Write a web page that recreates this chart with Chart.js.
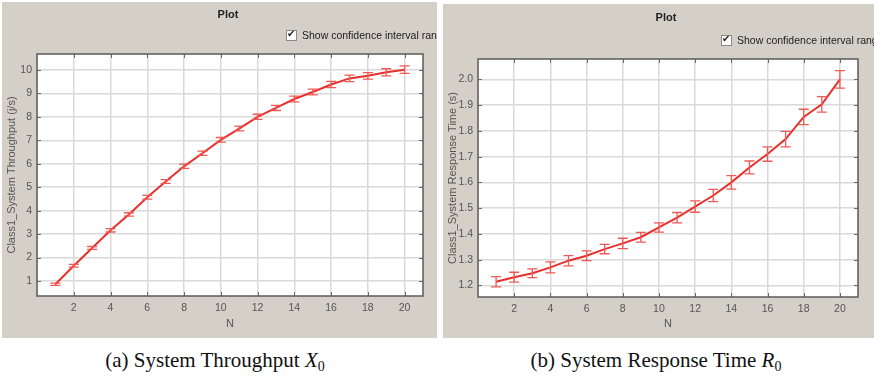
<!DOCTYPE html>
<html>
<head>
<meta charset="utf-8">
<script src="https://cdn.jsdelivr.net/npm/chart.js@4/dist/chart.umd.min.js"></script>
<style>
  html, body { margin: 0; padding: 0; background: #ffffff; }
  #root { position: relative; width: 874px; height: 379px; overflow: hidden; background: #ffffff; }
  .panel { position: absolute; background: #d4d0c8; overflow: hidden; }
  .panel canvas { position: absolute; left: 0; top: 0; }
  .ptitle { position: absolute; font: bold 11px "Liberation Sans", Arial, sans-serif; color: #222; transform: translate(-50%, -50%); white-space: nowrap; }
  .chk { position: absolute; font: 10.5px "Liberation Sans", Arial, sans-serif; color: #222; white-space: nowrap; display: flex; align-items: center; }
  .box { width: 9px; height: 9px; border: 1px solid #8a8a8a; background: #fff; margin-right: 5px; position: relative; }
  .box::after { content: "\2714"; position: absolute; left: 0px; top: -3px; font-size: 10px; color: #222; }
  .cap { position: absolute; font: 21px "Liberation Serif", "Times New Roman", serif; color: #111; white-space: nowrap; transform: translate(-50%, -50%); }
  .cap sub { font-size: 14px; vertical-align: -4px; line-height: 0; }
</style>
</head>
<body>
<div id="root">
  <div class="panel" id="p1" style="left:2px; top:2px; width:435px; height:336px;">
    <canvas id="c1" width="435" height="336"></canvas>
    <div class="ptitle" style="left:226px; top:12px;">Plot</div>
    <div class="chk" style="left:284px; top:27px;"><span class="box"></span>Show confidence interval range</div>
  </div>
  <div class="panel" id="p2" style="left:443px; top:4px; width:431px; height:334px;">
    <canvas id="c2" width="431" height="334"></canvas>
    <div class="ptitle" style="left:223px; top:13px;">Plot</div>
    <div class="chk" style="left:278px; top:30px;"><span class="box"></span>Show confidence interval range</div>
  </div>
  <div class="cap" style="left:215px; top:360px;">(a) System Throughput <i>X</i><sub>0</sub></div>
  <div class="cap" style="left:656px; top:360px;">(b) System Response Time <i>R</i><sub>0</sub></div>
</div>
<script>
// ---- data ----
const N = [1,2,3,4,5,6,7,8,9,10,11,12,13,14,15,16,17,18,19,20];
const throughput = [0.86,1.65,2.41,3.16,3.84,4.57,5.24,5.89,6.45,7.02,7.50,8.00,8.38,8.76,9.06,9.38,9.64,9.75,9.90,10.01];
const throughputErr = [0.05,0.06,0.06,0.07,0.07,0.08,0.08,0.09,0.09,0.10,0.10,0.11,0.11,0.12,0.12,0.13,0.14,0.14,0.15,0.16];
const responseTime = [1.214,1.232,1.247,1.270,1.296,1.315,1.341,1.363,1.387,1.425,1.463,1.506,1.549,1.600,1.658,1.710,1.768,1.854,1.903,2.000];
const responseErr = [0.020,0.019,0.017,0.021,0.020,0.019,0.018,0.020,0.019,0.018,0.020,0.022,0.024,0.026,0.025,0.028,0.030,0.030,0.030,0.034];
const xTicks = [2,4,6,8,10,12,14,16,18,20];
const yTicksA = [1,2,3,4,5,6,7,8,9,10];
const yTicksB = [1.2,1.3,1.4,1.5,1.6,1.7,1.8,1.9,2.0];

const LINE = '#e8302c';
const ERR = '#ef5a56';
const TICKFONT = { family: '"Liberation Sans", Arial, sans-serif', size: 10.5 };
const TITLEFONT = { family: '"Liberation Sans", Arial, sans-serif', size: 11 };

const framePlugin = {
  id: 'frame',
  beforeDraw(chart) {
    const a = chart.chartArea, ctx = chart.ctx;
    ctx.save();
    ctx.fillStyle = '#ffffff';
    ctx.fillRect(a.left, a.top, a.right - a.left, a.bottom - a.top);
    ctx.restore();
  },
  afterDatasetsDraw(chart) {
    const opt = chart.options.plugins.frame;
    const xs = chart.scales.x, ys = chart.scales.y, ctx = chart.ctx;
    ctx.save();
    ctx.strokeStyle = ERR;
    ctx.lineWidth = 1.3;
    opt.values.forEach((v, i) => {
      const x = xs.getPixelForValue(opt.xs[i]);
      const yt = ys.getPixelForValue(v + opt.errs[i]);
      const yb = ys.getPixelForValue(v - opt.errs[i]);
      ctx.beginPath();
      ctx.moveTo(x, yt); ctx.lineTo(x, yb);
      ctx.moveTo(x - 5, yt); ctx.lineTo(x + 5, yt);
      ctx.moveTo(x - 5, yb); ctx.lineTo(x + 5, yb);
      ctx.stroke();
    });
    ctx.restore();
  },
  afterDraw(chart) {
    const a = chart.chartArea, ctx = chart.ctx;
    const xs = chart.scales.x, ys = chart.scales.y;
    ctx.save();
    ctx.strokeStyle = '#6a6a6a';
    ctx.lineWidth = 1;
    ctx.beginPath();
    xs.ticks.forEach(t => {
      if (t.value <= xs.min || t.value >= xs.max) return;
      const x = Math.round(xs.getPixelForValue(t.value)) + 0.5;
      ctx.moveTo(x, a.bottom); ctx.lineTo(x, a.bottom - 4);
      ctx.moveTo(x, a.top); ctx.lineTo(x, a.top + 4);
    });
    ys.ticks.forEach(t => {
      const y = Math.round(ys.getPixelForValue(t.value)) + 0.5;
      ctx.moveTo(a.left, y); ctx.lineTo(a.left + 4, y);
      ctx.moveTo(a.right, y); ctx.lineTo(a.right - 4, y);
    });
    ctx.stroke();
    ctx.lineWidth = 1.5;
    ctx.strokeStyle = '#5a5a5a';
    ctx.strokeRect(Math.round(a.left), Math.round(a.top), Math.round(a.right - a.left), Math.round(a.bottom - a.top));
    ctx.restore();
  }
};

function makeChart(id, values, errs, yMin, yMax, yStep, yTickVals, yTitle, pad, xHeight, decimals) {
  const pts = N.map((n, i) => ({ x: n, y: values[i] }));
  return new Chart(document.getElementById(id), {
    type: 'line',
    data: { datasets: [{ data: pts, borderColor: LINE, borderWidth: 2, pointRadius: 0, tension: 0, fill: false }] },
    options: {
      responsive: false,
      animation: false,
      devicePixelRatio: 1,
      layout: { padding: pad },
      plugins: {
        legend: { display: false },
        tooltip: { enabled: false },
        frame: { values: values, errs: errs, xs: N }
      },
      scales: {
        x: {
          type: 'linear', min: 0, max: 21,
          border: { display: false },
          grid: { color: '#d9d9d9', lineWidth: 1.5, drawTicks: false },
          ticks: {
            stepSize: 2, includeBounds: false, padding: 6, color: '#555', font: TICKFONT,
            callback: v => xTicks.includes(v) ? String(v) : ''
          },
          title: { display: true, text: 'N', color: '#555', font: TITLEFONT, padding: { top: 0, bottom: 3 } },
          afterFit: s => { s.height = xHeight; }
        },
        y: {
          type: 'linear', min: yMin, max: yMax,
          border: { display: false },
          grid: { color: '#d9d9d9', lineWidth: 1.5, drawTicks: false },
          ticks: {
            stepSize: yStep, includeBounds: false, padding: 5, color: '#555', font: TICKFONT,
            callback: v => yTickVals.some(t => Math.abs(t - v) < 1e-6) ? v.toFixed(decimals) : ''
          },
          title: { display: true, text: yTitle, color: '#555', font: TITLEFONT, padding: { top: 3, bottom: 0 } },
          afterFit: s => { s.width = 35; }
        }
      }
    },
    plugins: [framePlugin]
  });
}

makeChart('c1', throughput, throughputErr, 0.36, 10.68, 1, yTicksA, 'Class1_System Throughput (j/s)',
  { left: 0, top: 52, right: 14, bottom: 4 }, 38, 0);
makeChart('c2', responseTime, responseErr, 1.155, 2.079, 0.1, yTicksB, 'Class1_System Response Time (s)',
  { left: 0, top: 55, right: 16, bottom: 4 }, 37, 1);
</script>
</body>
</html>
